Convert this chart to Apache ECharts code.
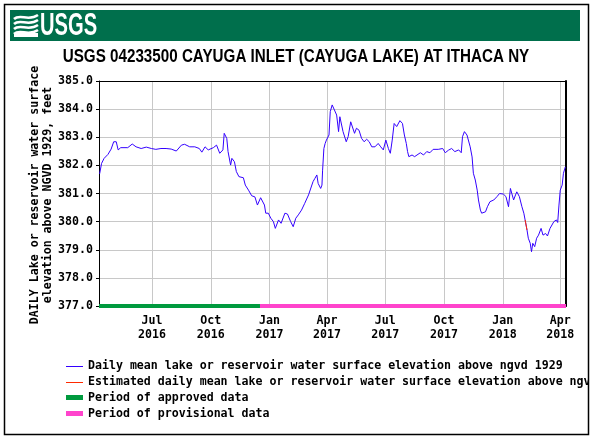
<!DOCTYPE html>
<html>
<head>
<meta charset="utf-8">
<title>USGS 04233500 Cayuga Inlet at Ithaca NY</title>
<script src="https://cdn.jsdelivr.net/npm/echarts@6/dist/echarts.min.js"></script>
<style>
  html, body { margin: 0; padding: 0; background: #fff; }
  #chart { width: 593px; height: 442px; }
</style>
</head>
<body>
<div id="chart"></div>
<script>
// graph window
const startDate = '2016-04-09'
const endDate = '2018-04-10'

// days after startDate and daily mean lake level (ft above NGVD 1929)
const dayOffsets = [
  1, 4, 8, 14, 19, 23, 27, 30, 34, 45, 52, 58, 66, 74, 82, 89, 97, 105, 113, 121,
  129, 134, 142, 150, 157, 161, 166, 171, 179, 184, 189, 194, 196, 200, 202, 206, 208, 212, 215, 219,
  226, 229, 234, 239, 244, 248, 253, 259, 261, 265, 269, 273, 276, 281, 285, 291, 295, 300, 304, 308,
  312, 317, 322, 328, 331, 335, 338, 341, 343, 347, 349, 350, 352, 354, 356, 360, 362, 365, 368, 372,
  375, 377, 380, 382, 387, 390, 394, 397, 400, 403, 407, 411, 415, 419, 423, 427, 432, 437, 441, 445,
  449, 453, 456, 459, 462, 466, 469, 471, 475, 478, 481, 483, 485, 490, 494, 497, 503, 508, 513, 518,
  523, 531, 538, 542, 547, 552, 557, 563, 567, 569, 572, 576, 578, 581, 584, 586, 589, 592, 594, 597,
  599, 602, 605, 608, 612, 618, 623, 627, 633, 637, 641, 644, 646, 649, 652, 654, 658, 662, 665, 667,
  670, 672, 675, 677, 679, 682, 685, 688, 692, 695, 699, 702, 706, 712, 716, 718, 720, 722, 725, 727,
  730
]
const levels = [
  381.70, 382.07, 382.25, 382.39, 382.58, 382.84, 382.84, 382.55, 382.63, 382.63, 382.76, 382.66, 382.60, 382.65, 382.60, 382.57, 382.60, 382.60, 382.58, 382.51,
  382.72, 382.75, 382.66, 382.66, 382.60, 382.47, 382.66, 382.55, 382.63, 382.72, 382.43, 382.55, 383.14, 382.96, 382.49, 382.01, 382.25, 382.13, 381.78, 381.60,
  381.56, 381.30, 381.12, 380.92, 380.88, 380.59, 380.85, 380.59, 380.30, 380.30, 380.12, 380.00, 379.76, 380.06, 379.94, 380.30, 380.27, 380.00, 379.82, 380.12,
  380.24, 380.41, 380.65, 380.95, 381.00, 381.42, 381.54, 381.66, 381.36, 381.18, 381.30, 381.83, 382.60, 382.78, 382.90, 383.08, 383.91, 384.15, 384.15, 383.79,
  383.20, 383.73, 383.73, 383.20, 382.84, 383.02, 383.55, 383.50, 383.14, 383.32, 383.25, 382.96, 382.84, 382.93, 382.84, 382.66, 382.66, 382.78, 382.66, 382.55,
  382.90, 382.60, 382.43, 382.90, 383.49, 383.38, 383.34, 383.59, 383.49, 383.08, 382.78, 382.49, 382.31, 382.37, 382.31, 382.37, 382.45, 382.37, 382.49, 382.45,
  382.57, 382.57, 382.60, 382.45, 382.54, 382.60, 382.49, 382.55, 382.45, 383.02, 383.20, 383.08, 383.03, 382.66, 382.30, 381.72, 381.48, 381.12, 380.77, 380.41,
  380.30, 380.35, 380.35, 380.53, 380.71, 380.77, 380.89, 381.00, 380.98, 380.89, 380.53, 381.18, 381.24, 380.77, 380.95, 381.06, 380.89, 380.53, 380.30, 380.06,
  379.70, 379.41, 379.23, 378.93, 379.23, 379.11, 379.41, 379.52, 379.76, 379.52, 379.58, 379.49, 379.76, 380.00, 380.06, 379.97, 380.59, 381.12, 381.30, 381.72,
  381.95
]

// short stretch flagged as estimated
const estimatedDays = [667, 670]
const estimatedLevels = [380.06, 379.70]

// approval status bars along the bottom
const approvedPeriod = ['2016-04-09', '2016-12-17']
const provisionalPeriod = ['2016-12-17', '2018-04-10']

const tickDates = ['2016-07-01', '2016-10-01', '2017-01-01', '2017-04-01', '2017-07-01', '2017-10-01', '2018-01-01', '2018-04-01']
const tickLabels = ['Jul\n2016', 'Oct\n2016', 'Jan\n2017', 'Apr\n2017', 'Jul\n2017', 'Oct\n2017', 'Jan\n2018', 'Apr\n2018']

const legendNames = [
  'Daily mean lake or reservoir water surface elevation above ngvd 1929',
  'Estimated daily mean lake or reservoir water surface elevation above ngvd 1929',
  'Period of approved data',
  'Period of provisional data'
]

const DAY = 86400000
const t0 = Date.parse(startDate)
const toPairs = (days, vals) => days.map((d, i) => [t0 + d * DAY, vals[i]])
const periodPairs = p => p.map(s => [Date.parse(s), 377])
const tickTimes = tickDates.map(s => Date.parse(s))

const mono = '"DejaVu Sans Mono", monospace'
const monoFont = 'bold 11.6px ' + mono

const chart = echarts.init(document.getElementById('chart'))

chart.setOption({
  animation: false,
  grid: { left: 99, right: 27, top: 81, bottom: 136 },
  xAxis: [
    {
      // plain numeric axis holding timestamps, so the quarter ticks can be placed exactly
      type: 'value',
      min: t0,
      max: Date.parse(endDate),
      axisLine: { lineStyle: { color: '#000', width: 1 } },
      axisTick: { show: false, customValues: tickTimes },
      splitLine: { show: true, lineStyle: { color: '#c8c8c8', width: 1 } },
      axisLabel: {
        customValues: tickTimes,
        margin: 8,
        color: '#000',
        fontFamily: mono,
        fontWeight: 'bold',
        fontSize: 11.6,
        lineHeight: 14,
        formatter: v => tickLabels[tickTimes.indexOf(v)] || ''
      }
    },
    // top edge of the plot frame
    {
      type: 'value', position: 'top', min: 0, max: 1,
      axisLine: { show: true, onZero: false, lineStyle: { color: '#000', width: 1 } },
      axisTick: { show: false }, axisLabel: { show: false }, splitLine: { show: false }
    }
  ],
  yAxis: [
    {
      type: 'value',
      min: 377,
      max: 385,
      interval: 1,
      axisLine: { show: true, lineStyle: { color: '#000', width: 1 } },
      axisTick: { show: true, length: 3, lineStyle: { color: '#000' } },
      splitLine: { show: true, lineStyle: { color: '#c8c8c8', width: 1 } },
      axisLabel: {
        margin: 6,
        color: '#000',
        fontFamily: mono,
        fontWeight: 'bold',
        fontSize: 11.6,
        formatter: v => v.toFixed(1)
      }
    },
    // right edge of the plot frame
    {
      type: 'value', position: 'right', min: 0, max: 1,
      axisLine: { show: true, onZero: false, lineStyle: { color: '#000', width: 2 } },
      axisTick: { show: false }, axisLabel: { show: false }, splitLine: { show: false }
    }
  ],
  series: [
    {
      name: legendNames[0],
      type: 'line',
      data: toPairs(dayOffsets, levels),
      symbol: 'none',
      lineStyle: { color: '#3300ff', width: 1 },
      z: 3
    },
    {
      name: legendNames[1],
      type: 'line',
      data: toPairs(estimatedDays, estimatedLevels),
      symbol: 'none',
      lineStyle: { color: '#ff2a00', width: 1 },
      z: 4
    },
    {
      name: legendNames[2],
      type: 'line',
      data: periodPairs(approvedPeriod),
      symbol: 'none',
      clip: false,
      lineStyle: { color: '#009a3e', width: 4 },
      z: 5
    },
    {
      name: legendNames[3],
      type: 'line',
      data: periodPairs(provisionalPeriod),
      symbol: 'none',
      clip: false,
      lineStyle: { color: '#ff44cc', width: 4 },
      z: 5
    }
  ],
  graphic: [
    // USGS banner
    { type: 'rect', shape: { x: 10, y: 10, width: 570, height: 31 }, style: { fill: '#006f4c' } },
    { type: 'bezierCurve', shape: { x1: 14, y1: 19, cpx1: 20, cpy1: 13, cpx2: 28, cpy2: 22, x2: 38, y2: 15 }, style: { stroke: '#fff', lineWidth: 2.5, fill: null } },
    { type: 'bezierCurve', shape: { x1: 14, y1: 24, cpx1: 20, cpy1: 18, cpx2: 28, cpy2: 27, x2: 38, y2: 20 }, style: { stroke: '#fff', lineWidth: 2.5, fill: null } },
    { type: 'bezierCurve', shape: { x1: 14, y1: 29, cpx1: 20, cpy1: 23, cpx2: 28, cpy2: 32, x2: 38, y2: 25 }, style: { stroke: '#fff', lineWidth: 2.5, fill: null } },
    { type: 'bezierCurve', shape: { x1: 14, y1: 34, cpx1: 20, cpy1: 28, cpx2: 28, cpy2: 37, x2: 38, y2: 30 }, style: { stroke: '#fff', lineWidth: 2.5, fill: null } },
    { type: 'rect', shape: { x: 14, y: 33, width: 24, height: 4 }, style: { fill: '#fff' } },
    {
      type: 'text', x: 40, y: 26, scaleX: 0.63,
      style: { text: 'USGS', fill: '#fff', font: 'bold 32px "Liberation Sans", sans-serif', verticalAlign: 'middle' }
    },
    // title, squeezed to mimic the narrow face of the original
    {
      type: 'text', x: 296, y: 57, scaleX: 0.8,
      style: {
        text: 'USGS 04233500 CAYUGA INLET (CAYUGA LAKE) AT ITHACA NY',
        fill: '#000', font: 'bold 19px "Liberation Sans", sans-serif', align: 'center', verticalAlign: 'middle'
      }
    },
    // y axis title
    {
      type: 'text', x: 41, y: 195, rotation: Math.PI / 2,
      style: {
        text: 'DAILY Lake or reservoir water surface\nelevation above NGVD 1929, feet',
        font: monoFont, fill: '#000', align: 'center', verticalAlign: 'middle', lineHeight: 13
      }
    },
    // legend
    { type: 'line', shape: { x1: 66, y1: 366.5, x2: 83, y2: 366.5 }, style: { stroke: '#3300ff', lineWidth: 1 } },
    { type: 'line', shape: { x1: 66, y1: 382.5, x2: 83, y2: 382.5 }, style: { stroke: '#ff2a00', lineWidth: 1 } },
    { type: 'rect', shape: { x: 66, y: 395, width: 17, height: 5 }, style: { fill: '#009a3e' } },
    { type: 'rect', shape: { x: 66, y: 411, width: 17, height: 5 }, style: { fill: '#ff44cc' } },
    { type: 'text', x: 88, y: 366, style: { text: legendNames[0], font: monoFont, fill: '#000', verticalAlign: 'middle' } },
    { type: 'text', x: 88, y: 382, style: { text: legendNames[1], font: monoFont, fill: '#000', verticalAlign: 'middle' } },
    { type: 'text', x: 88, y: 397.5, style: { text: legendNames[2], font: monoFont, fill: '#000', verticalAlign: 'middle' } },
    { type: 'text', x: 88, y: 413.5, style: { text: legendNames[3], font: monoFont, fill: '#000', verticalAlign: 'middle' } },
    // outer frame, hiding legend text that runs past it
    { type: 'rect', z: 100, shape: { x: 589, y: 0, width: 4, height: 442 }, style: { fill: '#fff' } },
    { type: 'rect', z: 101, shape: { x: 4.5, y: 4.5, width: 584, height: 430 }, style: { fill: null, stroke: '#000', lineWidth: 1.5 } }
  ]
})
</script>
</body>
</html>
